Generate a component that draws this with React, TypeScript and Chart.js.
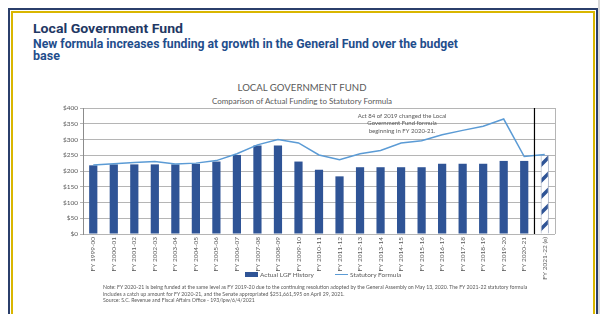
import React, { useEffect, useLayoutEffect, useRef } from "react";
import { Chart, registerables } from "chart.js";

Chart.register(...registerables);

const categories = [
  "FY 1999-00", "FY 2000-01", "FY 2001-02", "FY 2002-03", "FY 2003-04", "FY 2004-05",
  "FY 2005-06", "FY 2006-07", "FY 2007-08", "FY 2008-09", "FY 2009-10", "FY 2010-11",
  "FY 2011-12", "FY 2012-13", "FY 2013-14", "FY 2014-15", "FY 2015-16", "FY 2016-17",
  "FY 2017-18", "FY 2018-19", "FY 2019-20", "FY 2020-21", "FY 2021-22 (e)",
];

const actualLGF = [
  218, 221, 221, 221, 221, 223, 230, 251, 281, 281, 230, 204,
  183, 212, 212, 212, 212, 223, 223, 223, 232, 232, 251,
];

const statutoryFormula = [
  219, 223, 227, 230, 222, 225, 233, 255, 283, 300, 289, 251,
  236, 255, 265, 289, 296, 315, 329, 342, 365, 246, 252,
];

const yMin = 0;
const yMax = 400;
const yStep = 50;

const seriesNames = ["Actual LGF History", "Statutory Formula"];

const chartTitle = "LOCAL GOVERNMENT FUND";
const chartSubtitle = "Comparison of Actual Funding to Statutory Formula";

const annotationLines = [
  "Act 84 of 2019 changed the Local",
  "Government Fund formula",
  "beginning in FY 2020-21.",
];

const noteLines = [
  "Note: FY 2020-21 is being funded at the same level as FY 2019-20 due to the continuing resolution adopted by the General Assembly on May 13, 2020.  The FY 2021-22 statutory formula",
  "includes a catch up amount for FY 2020-21, and the Senate appropriated $251,661,595 on April 29, 2021.",
  "Source: S.C. Revenue and Fiscal Affairs Office - 193/lpw/6/4/2021",
];

const slideTitle = "Local Government Fund";
const slideSubtitle1 = "New formula increases funding at growth in the General Fund over the budget";
const slideSubtitle2 = "base";

const BAR_BLUE = "#2F5496";
const LINE_BLUE = "#5B9BD5";
const GRAY_TEXT = "#595959";
const CHART_FONT = "Lato, 'Open Sans', sans-serif";
const HEAD_FONT = "Roboto, 'Liberation Sans', sans-serif";

function makeHatch(): CanvasPattern | string {
  const c = document.createElement("canvas");
  c.width = 16;
  c.height = 16;
  const g = c.getContext("2d");
  if (!g) return BAR_BLUE;
  g.fillStyle = "#ffffff";
  g.fillRect(0, 0, 16, 16);
  g.strokeStyle = BAR_BLUE;
  g.lineWidth = 3.5;
  g.beginPath();
  g.moveTo(-2, 18);
  g.lineTo(18, -2);
  g.moveTo(-2, 2);
  g.lineTo(2, -2);
  g.moveTo(14, 18);
  g.lineTo(18, 14);
  g.stroke();
  const p = g.createPattern(c, "repeat");
  return p || BAR_BLUE;
}

const overlayPlugin = {
  id: "overlay",
  afterDatasetsDraw(chart: any) {
    const { ctx, chartArea, scales } = chart;
    const xs = scales.x;
    ctx.save();
    ctx.strokeStyle = "#B5B5B5";
    ctx.lineWidth = 1;
    ctx.beginPath();
    ctx.moveTo(Math.round(chartArea.right) + 0.5, chartArea.top);
    ctx.lineTo(Math.round(chartArea.right) + 0.5, chartArea.bottom);
    ctx.stroke();
    const n = categories.length;
    const xSep = (xs.getPixelForTick(n - 2) + xs.getPixelForTick(n - 1)) / 2;
    ctx.strokeStyle = "#000000";
    ctx.lineWidth = 1.2;
    ctx.beginPath();
    ctx.moveTo(xSep, chartArea.top);
    ctx.lineTo(xSep, chartArea.bottom);
    ctx.stroke();
    const ax = xs.getPixelForTick(15) + 1;
    ctx.fillStyle = GRAY_TEXT;
    ctx.font = `6px ${CHART_FONT}`;
    ctx.textAlign = "center";
    ctx.textBaseline = "middle";
    const offsets = [8, 15.3, 23];
    annotationLines.forEach((t, i) => {
      ctx.fillText(t, ax, chartArea.top + offsets[i]);
    });
    ctx.restore();
  },
};

function LGFChart() {
  const ref = useRef<HTMLCanvasElement | null>(null);
  useEffect(() => {
    if (!ref.current) return;
    const hatch = makeHatch();
    const n = categories.length;
    const barColors = categories.map((_, i) => (i === n - 1 ? hatch : BAR_BLUE));
    const barBorders = categories.map((_, i) => (i === n - 1 ? "#9DA9BF" : BAR_BLUE));
    const barBorderWidths = categories.map((_, i) => (i === n - 1 ? 1 : 0));
    const chart = new Chart(ref.current, {
      type: "bar",
      data: {
        labels: categories,
        datasets: [
          {
            type: "line",
            label: seriesNames[1],
            data: statutoryFormula,
            borderColor: LINE_BLUE,
            backgroundColor: LINE_BLUE,
            borderWidth: 1.5,
            pointRadius: 0,
            tension: 0,
            order: 0,
          } as any,
          {
            type: "bar",
            label: seriesNames[0],
            data: actualLGF,
            backgroundColor: barColors as any,
            borderColor: barBorders,
            borderWidth: barBorderWidths,
            categoryPercentage: 1,
            barPercentage: 0.4,
            order: 1,
          } as any,
        ],
      },
      options: {
        animation: false,
        responsive: false,
        devicePixelRatio: 1,
        layout: { padding: { top: 8, right: 15, left: 0, bottom: 0 } },
        plugins: {
          legend: { display: false },
          title: { display: false },
          tooltip: { enabled: false },
        },
        scales: {
          x: {
            grid: { display: false, drawTicks: false },
            border: { display: false },
            ticks: {
              autoSkip: false,
              minRotation: 90,
              maxRotation: 90,
              padding: 3,
              color: GRAY_TEXT,
              font: { size: 6.5, family: CHART_FONT },
            },
            afterFit(scale: any) {
              scale.height = 48;
            },
          },
          y: {
            min: yMin,
            max: yMax,
            ticks: {
              stepSize: yStep,
              padding: 2,
              color: GRAY_TEXT,
              font: { size: 6.5, family: CHART_FONT },
              callback: (v: any) => "$" + v,
            },
            grid: { color: "#B5B5B5", tickLength: 3, drawTicks: true },
            border: { display: true, color: "#8C8C8C" },
            afterFit(scale: any) {
              scale.width = 53;
            },
          },
        },
      },
      plugins: [overlayPlugin],
    });
    return () => chart.destroy();
  }, []);
  return <canvas ref={ref} width={540} height={182} style={{ width: 540, height: 182, display: "block" }} />;
}

function FitLine(props: { text: string; width: number; style: React.CSSProperties }) {
  const ref = useRef<HTMLSpanElement | null>(null);
  useLayoutEffect(() => {
    const el = ref.current;
    if (!el) return;
    el.style.transform = "none";
    const w = el.getBoundingClientRect().width;
    if (w > 0) el.style.transform = `scaleX(${props.width / w})`;
  }, [props.text, props.width]);
  return (
    <div style={{ ...props.style, whiteSpace: "nowrap" }}>
      <span ref={ref} style={{ display: "inline-block", transformOrigin: "0 0" }}>
        {props.text}
      </span>
    </div>
  );
}

export default function App() {
  useEffect(() => {
    document.body.style.margin = "0";
  }, []);
  const abs = (s: React.CSSProperties): React.CSSProperties => ({ position: "absolute", ...s });
  return (
    <div style={{ position: "relative", width: 600, height: 314, overflow: "hidden", background: "#ffffff", margin: 0 }}>
      <div style={abs({ left: 598, top: 0, width: 2, height: 314, background: "#D9D9D9" })} />
      <div style={abs({ left: 8, top: 8, width: 590, height: 400, background: "#2B3F6B" })} />
      <div style={abs({ left: 10, top: 10, width: 586, height: 400, background: "#ffffff" })} />
      <div style={abs({ left: 11, top: 11, width: 584, height: 400, background: "#D9B600" })} />
      <div style={abs({ left: 13, top: 13, width: 580, height: 400, background: "#ffffff" })} />

      <FitLine
        text={slideTitle}
        width={150}
        style={abs({ left: 33, top: 21, fontFamily: HEAD_FONT, fontWeight: 700, fontSize: 12.7, lineHeight: "16px", color: "#1F3864" })}
      />
      <FitLine
        text={slideSubtitle1}
        width={425}
        style={abs({ left: 33, top: 37.5, fontFamily: HEAD_FONT, fontWeight: 700, fontSize: 12, lineHeight: "12.3px", color: "#1F4E8C" })}
      />
      <FitLine
        text={slideSubtitle2}
        width={27}
        style={abs({ left: 33, top: 49.8, fontFamily: HEAD_FONT, fontWeight: 700, fontSize: 12, lineHeight: "12.3px", color: "#1F4E8C" })}
      />

      <div style={abs({ left: 0, width: 604, top: 82, textAlign: "center", fontFamily: CHART_FONT, fontSize: 9.6, lineHeight: "12px", color: GRAY_TEXT, whiteSpace: "nowrap" })}>
        {chartTitle}
      </div>
      <div style={abs({ left: 0, width: 604, top: 96, textAlign: "center", fontFamily: CHART_FONT, fontSize: 8, lineHeight: "10px", color: GRAY_TEXT, whiteSpace: "nowrap" })}>
        {chartSubtitle}
      </div>

      <div style={abs({ left: 30, top: 100 })}>
        <LGFChart />
      </div>

      <div style={abs({ left: 245, top: 272, width: 13, height: 5, background: BAR_BLUE })} />
      <div style={abs({ left: 260, top: 270.5, fontFamily: CHART_FONT, fontSize: 6.5, lineHeight: "8px", color: GRAY_TEXT, whiteSpace: "nowrap" })}>
        {seriesNames[0]}
      </div>
      <div style={abs({ left: 335, top: 273.5, width: 13, height: 1.5, background: LINE_BLUE })} />
      <div style={abs({ left: 350, top: 270.5, fontFamily: CHART_FONT, fontSize: 6.5, lineHeight: "8px", color: GRAY_TEXT, whiteSpace: "nowrap" })}>
        {seriesNames[1]}
      </div>

      <div style={abs({ left: 103, top: 284, fontFamily: CHART_FONT, fontSize: 5.2, lineHeight: "6.5px", color: GRAY_TEXT, whiteSpace: "nowrap" })}>
        {noteLines.map((t, i) => (
          <div key={i}>{t}</div>
        ))}
      </div>
    </div>
  );
}
